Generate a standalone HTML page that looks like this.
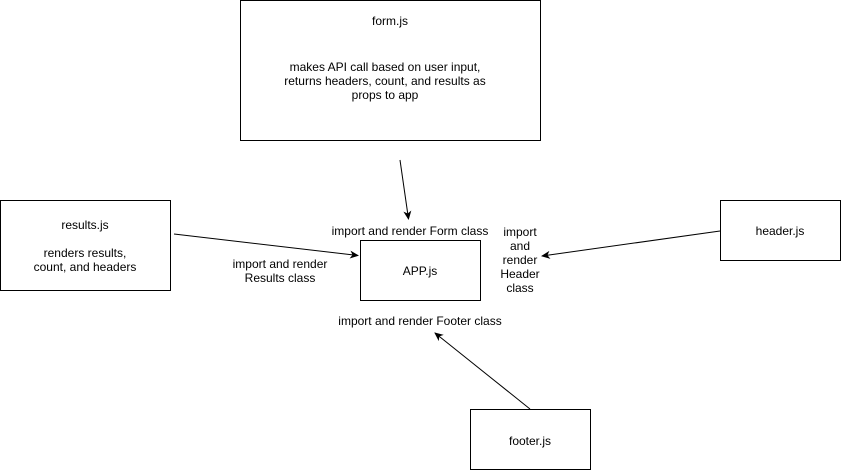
<!DOCTYPE html>
<html><head><style>
html,body{margin:0;padding:0;background:#fff;width:841px;height:471px;overflow:hidden}
svg{display:block}
text{font-family:"Liberation Sans",Helvetica,sans-serif;font-size:12px;fill:#000;text-anchor:middle}
</style></head><body>
<svg width="841" height="471" viewBox="0 0 841 471">
<defs><marker id="a" markerWidth="10" markerHeight="10" refX="8" refY="5" orient="auto" markerUnits="userSpaceOnUse"><path d="M0,1 L9,5 L0,9 L2.5,5 z" fill="#000"/></marker></defs>
<g fill="#fff" stroke="#000" stroke-width="1">
<rect x="240.5" y="0.5" width="300" height="140"/>
<rect x="0.5" y="200.5" width="170" height="90"/>
<rect x="360.5" y="240.5" width="120" height="60"/>
<rect x="720.5" y="200.5" width="120" height="60"/>
<rect x="470.5" y="409.5" width="120" height="60"/>
</g>
<g stroke="#000" stroke-width="1" fill="none" marker-end="url(#a)">
<line x1="400" y1="160" x2="408.5" y2="219"/>
<line x1="174" y1="234" x2="358" y2="255.5"/>
<line x1="720" y1="231" x2="542" y2="256"/>
<line x1="530" y1="409" x2="435" y2="333"/>
</g>
<text x="390" y="25">form.js</text>
<text x="385" y="71">makes API call based on user input,</text>
<text x="385" y="85">returns headers, count, and results as</text>
<text x="385" y="99">props to app</text>
<text x="85" y="229">results.js</text>
<text x="85" y="257">renders results,</text>
<text x="85" y="271">count, and headers</text>
<text x="420" y="275">APP.js</text>
<text x="780" y="235">header.js</text>
<text x="530" y="445">footer.js</text>
<text x="410" y="235">import and render Form class</text>
<text x="280" y="268">import and render</text>
<text x="280" y="282">Results class</text>
<text x="520" y="236">import</text>
<text x="520" y="250">and</text>
<text x="520" y="264">render</text>
<text x="520" y="278">Header</text>
<text x="520" y="292">class</text>
<text x="420" y="325">import and render Footer class</text>
</svg>
</body></html>
